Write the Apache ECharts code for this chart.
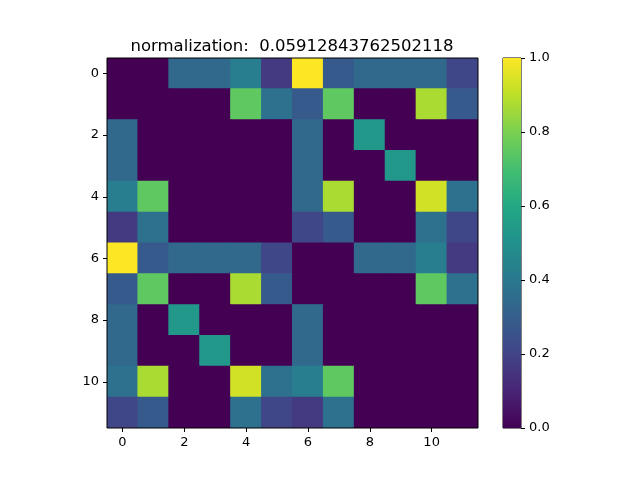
<!doctype html>
<html>
<head>
<meta charset="UTF-8">
<title>normalization heatmap</title>
<script src="https://cdn.jsdelivr.net/npm/echarts@6/dist/echarts.min.js"></script>
<style>
  html, body { margin: 0; padding: 0; background: #fff; }
  #main { width: 640px; height: 480px; }
</style>
</head>
<body>
<div id="main"></div>
<script type="text/javascript">
    var titleText = 'normalization:  0.05912843762502118';
    var labels = ['0', '1', '2', '3', '4', '5', '6', '7', '8', '9', '10', '11'];
    // rows top to bottom
    var matrix = [
        [0.00, 0.00, 0.34, 0.34, 0.42, 0.17, 1.00, 0.28, 0.34, 0.34, 0.34, 0.21],
        [0.00, 0.00, 0.00, 0.00, 0.75, 0.37, 0.28, 0.75, 0.00, 0.00, 0.87, 0.28],
        [0.34, 0.00, 0.00, 0.00, 0.00, 0.00, 0.34, 0.00, 0.53, 0.00, 0.00, 0.00],
        [0.34, 0.00, 0.00, 0.00, 0.00, 0.00, 0.34, 0.00, 0.00, 0.53, 0.00, 0.00],
        [0.42, 0.75, 0.00, 0.00, 0.00, 0.00, 0.34, 0.87, 0.00, 0.00, 0.93, 0.37],
        [0.17, 0.37, 0.00, 0.00, 0.00, 0.00, 0.21, 0.28, 0.00, 0.00, 0.37, 0.21],
        [1.00, 0.28, 0.34, 0.34, 0.34, 0.21, 0.00, 0.00, 0.34, 0.34, 0.42, 0.17],
        [0.28, 0.75, 0.00, 0.00, 0.87, 0.28, 0.00, 0.00, 0.00, 0.00, 0.75, 0.37],
        [0.34, 0.00, 0.53, 0.00, 0.00, 0.00, 0.34, 0.00, 0.00, 0.00, 0.00, 0.00],
        [0.34, 0.00, 0.00, 0.53, 0.00, 0.00, 0.34, 0.00, 0.00, 0.00, 0.00, 0.00],
        [0.37, 0.87, 0.00, 0.00, 0.93, 0.37, 0.42, 0.75, 0.00, 0.00, 0.00, 0.00],
        [0.21, 0.28, 0.00, 0.00, 0.37, 0.21, 0.17, 0.37, 0.00, 0.00, 0.00, 0.00]
    ];
    var viridis = ['#440154', '#482475', '#414487', '#355f8d', '#2a788e', '#21918c',
                   '#22a884', '#44bf70', '#7ad151', '#bddf26', '#fde725'];
    var barTop = [1];

    var cells = [];
    for (var r = 0; r < matrix.length; r++) {
        for (var c = 0; c < matrix[r].length; c++) {
            cells.push([c, r, matrix[r][c]]);
        }
    }

    // colorbar gradient, top = 1, bottom = 0
    var stops = [];
    for (var i = 0; i < viridis.length; i++) {
        stops.push({offset: 1 - i / (viridis.length - 1), color: viridis[i]});
    }

    // cells drawn a hair wider than their band so no seams show between them
    function renderCell(params, api) {
        var p = api.coord([api.value(0), api.value(1)]);
        var s = api.size([1, 1]);
        return {
            type: 'rect',
            shape: {x: p[0] - s[0] / 2 - 0.5, y: p[1] - s[1] / 2 - 0.5,
                    width: s[0] + 1, height: s[1] + 1},
            style: {fill: api.visual('color')}
        };
    }

    var font = 'DejaVu Sans';
    var myChart = echarts.init(document.getElementById('main'));
    var option = {
        backgroundColor: '#fff',
        animation: false,
        textStyle: {fontFamily: font},
        title: {
            text: titleText,
            left: 287,
            textAlign: 'center',
            top: 33,
            textStyle: {fontFamily: font, fontSize: 16.5, fontWeight: 'normal', color: '#000'}
        },
        grid: [
            {left: 107, top: 58, width: 371, height: 370, show: true,
             borderColor: '#000', borderWidth: 1, backgroundColor: 'transparent', z: 5},
            {left: 503, top: 58, width: 18, height: 370, show: true,
             borderColor: '#000', borderWidth: 1, backgroundColor: 'transparent'}
        ],
        xAxis: [{
            type: 'category', gridIndex: 0, data: labels,
            axisLine: {show: false},
            axisTick: {show: true, interval: 1, alignWithLabel: true, length: 4,
                       lineStyle: {color: '#000'}},
            axisLabel: {interval: 1, color: '#000', fontSize: 13, margin: 8, fontFamily: font},
            splitLine: {show: false}
        }, {
            type: 'category', gridIndex: 1, data: ['c'], show: false
        }],
        yAxis: [{
            type: 'category', gridIndex: 0, data: labels, inverse: true,
            axisLine: {show: false},
            axisTick: {show: true, interval: 1, alignWithLabel: true, length: 4,
                       lineStyle: {color: '#000'}},
            axisLabel: {interval: 1, color: '#000', fontSize: 13, margin: 8, fontFamily: font},
            splitLine: {show: false}
        }, {
            type: 'value', gridIndex: 1, position: 'right', min: 0, max: 1, interval: 0.2,
            axisLine: {show: false},
            axisTick: {show: true, length: 4, lineStyle: {color: '#000'}},
            axisLabel: {color: '#000', fontSize: 13, margin: 8, fontFamily: font,
                        formatter: function (v) { return v.toFixed(1); }},
            splitLine: {show: false}
        }],
        visualMap: {
            type: 'continuous', min: 0, max: 1, show: false, seriesIndex: 0, dimension: 2,
            inRange: {color: viridis}
        },
        series: [{
            type: 'custom',
            xAxisIndex: 0, yAxisIndex: 0,
            data: cells,
            encode: {x: 0, y: 1},
            clip: true,
            renderItem: renderCell
        }, {
            type: 'bar',
            xAxisIndex: 1, yAxisIndex: 1,
            data: barTop,
            barWidth: '100%',
            silent: true,
            itemStyle: {
                color: new echarts.graphic.LinearGradient(0, 0, 0, 1, stops)
            }
        }]
    };
    myChart.setOption(option);
</script>
</body>
</html>
